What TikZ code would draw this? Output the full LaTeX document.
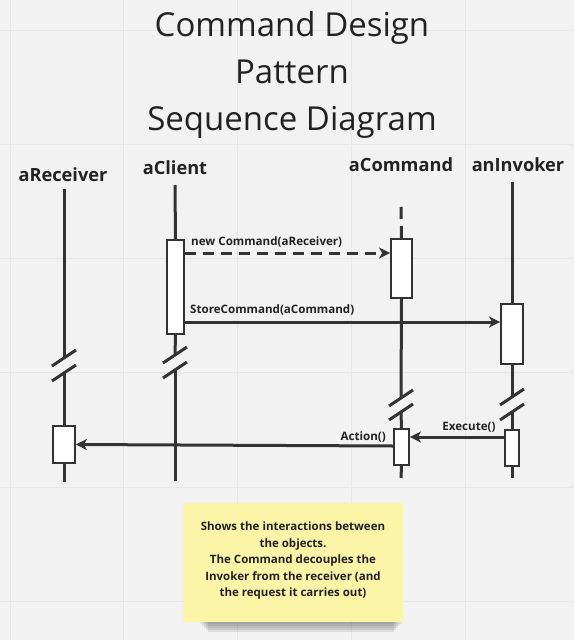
\documentclass[tikz,border=0pt]{standalone}
\usepackage{fontspec}
\setmainfont{Open Sans}
\usetikzlibrary{arrows.meta}
\definecolor{bg}{HTML}{F2F2F2}
\definecolor{gridc}{HTML}{E6E6E6}
\definecolor{ink}{HTML}{333333}
\definecolor{txt}{HTML}{222222}
\definecolor{notey}{HTML}{FCF5A8}
\tikzset{
  lifeline/.style={draw=ink, line width=3pt},
  actbox/.style={draw=ink, fill=white, line width=1.8pt},
  brk/.style={draw=ink, line width=3pt},
  msg/.style={draw=ink, line width=3pt, -{Stealth[length=11pt,width=11pt,inset=3pt]}},
  msglbl/.style={font=\bfseries\fontsize{11.6}{13}\selectfont, text=txt, inner sep=0pt},
  objlbl/.style={font=\bfseries\fontsize{18.2}{20}\selectfont, text=txt, inner sep=0pt},
}
\begin{document}
\begin{tikzpicture}[x=1pt,y=-1pt]
\useasboundingbox (0,0) rectangle (574,640);
\fill[bg] (0,0) rectangle (574,640);
% grid
\foreach \gx in {10,123,237,351,465} \draw[gridc, line width=1pt] (\gx,0) -- (\gx,640);
\foreach \gy in {30,144,258,372,487,601} \draw[gridc, line width=1pt] (0,\gy) -- (574,\gy);

% title
\node[font=\fontsize{33}{47}\selectfont, text=txt, align=center, inner sep=0pt] (title) at (292,75)
  {Command Design\\Pattern\\Sequence Diagram};

% object labels
\node[objlbl] (lRec) at (63,175) {aReceiver};
\node[objlbl] (lCli) at (175,168) {aClient};
\node[objlbl] (lCmd) at (401,165) {aCommand};
\node[objlbl] (lInv) at (518,165) {anInvoker};

% coordinates for lifelines
\coordinate (recTop) at (64,189);
\coordinate (recB1) at (64,358);
\coordinate (recB2) at (64,373);
\coordinate (recEnd) at (64,482);
\coordinate (cliTop) at (175,185);
\coordinate (cliB1) at (175,355);
\coordinate (cliB2) at (175,370);
\coordinate (cliEnd) at (175,481);
\coordinate (cmdTop) at (401,207);
\coordinate (cmdB1) at (401,398);
\coordinate (cmdB2) at (401,412);
\coordinate (cmdEnd) at (401,478);
\coordinate (invTop) at (512,182);
\coordinate (invB1) at (512,397);
\coordinate (invB2) at (512,412);
\coordinate (invEnd) at (512,478);

% activation boxes
\node[actbox, minimum width=17pt, minimum height=94pt, inner sep=0pt] (cliAct) at (175.5,287) {};
\node[actbox, minimum width=21pt, minimum height=59pt, inner sep=0pt] (cmdAct1) at (401.5,268.5) {};
\node[actbox, minimum width=15pt, minimum height=36pt, inner sep=0pt] (cmdAct2) at (401.5,447) {};
\node[actbox, minimum width=22pt, minimum height=60pt, inner sep=0pt] (invAct1) at (512,334) {};
\node[actbox, minimum width=14pt, minimum height=36pt, inner sep=0pt] (invAct2) at (512,448) {};
\node[actbox, minimum width=22pt, minimum height=37pt, inner sep=0pt] (recAct) at (64,444.5) {};

% lifelines
\draw[lifeline] (recTop) -- (recB1);
\draw[lifeline] (recB2) -- (recAct.north);
\draw[lifeline] (recAct.south) -- (recEnd);
\draw[lifeline] (cliTop) -- (cliAct.north);
\draw[lifeline] (cliAct.south) -- (cliB1);
\draw[lifeline] (cliB2) -- (cliEnd);
\draw[lifeline, dash pattern=on 12pt off 7pt] (cmdTop) -- (cmdAct1.north);
\draw[lifeline] (cmdAct1.south) -- (cmdB1);
\draw[lifeline] (cmdB2) -- (cmdAct2.north);
\draw[lifeline] (cmdAct2.south) -- (cmdEnd);
\draw[lifeline] (invTop) -- (invAct1.north);
\draw[lifeline] (invAct1.south) -- (invB1);
\draw[lifeline] (invB2) -- (invAct2.north);
\draw[lifeline] (invAct2.south) -- (invEnd);

% break marks
\foreach \c in {recB1,recB2,cliB1,cliB2,cmdB1,cmdB2,invB1,invB2}
  \draw[brk] ([shift={(-12,8)}]\c) -- ([shift={(12,-8)}]\c);

% messages
\draw[msg, dash pattern=on 11pt off 7pt] (cliAct.east |- 0,253) -- (cmdAct1.west |- 0,253);
\node[msglbl, anchor=west] (mNew) at (191,242) {new Command(aReceiver)};
\draw[msg] (cliAct.east |- 0,322) -- (invAct1.west |- 0,322);
\node[msglbl, anchor=west] (mStore) at (190,310) {StoreCommand(aCommand)};
\draw[msg] (invAct2.west |- 0,437) -- (cmdAct2.east |- 0,437);
\node[msglbl] (mExec) at (469,427) {Execute()};
\draw[msg] (cmdAct2.west |- 0,446) -- (recAct.east |- 0,444.5);
\node[msglbl, anchor=east] (mAct) at (386,437) {Action()};

% note with shadow
\foreach \i/\o in {0/0.06,1/0.06,2/0.07,3/0.08,4/0.09}
  \fill[black, opacity=\o] (200+\i*2,612-\i) rectangle (402-\i*2,624+\i*2);
\fill[notey] (183,503) rectangle (403,622);
\node[font=\bfseries\fontsize{11.5}{16.5}\selectfont, text=txt, align=center, inner sep=0pt] (note) at (293,561)
  {Shows the interactions between\\the objects.\\The Command decouples the\\Invoker from the receiver (and\\the request it carries out)};
\end{tikzpicture}
\end{document}
